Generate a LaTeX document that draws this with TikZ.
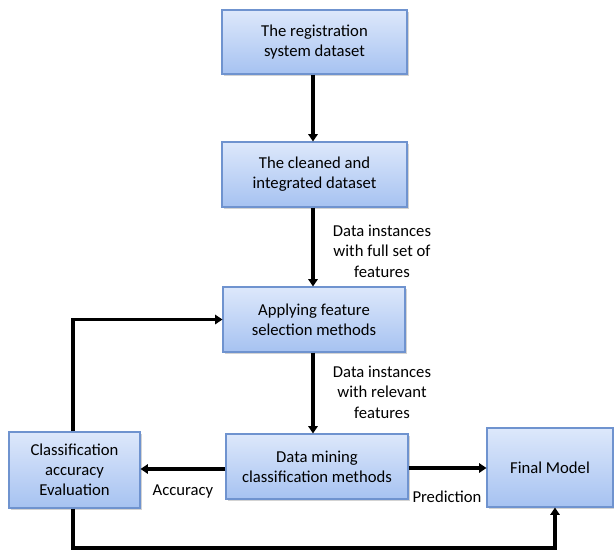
\documentclass[tikz,border=0pt]{standalone}
\usepackage{fontspec}
\setmainfont{Carlito}
\usepackage{tikz}
\usetikzlibrary{positioning, arrows, arrows.meta, shapes, shadows}
\definecolor{boxtop}{HTML}{DDE8FB}
\definecolor{boxbottom}{HTML}{A6C2F1}
\definecolor{boxline}{HTML}{6F93CF}
\tikzstyle{stagebox} = [draw=boxline, line width=0.8pt, rectangle, inner sep=2pt, top color=boxtop, bottom color=boxbottom, align=center, font=\fontsize{12.5}{15}\selectfont, drop shadow={shadow xshift=1.2pt, shadow yshift=-1.5pt, opacity=0.35}]
\tikzstyle{flow} = [line width=2.6pt, -{Triangle[length=5.5pt, width=7pt]}]
\tikzstyle{note} = [align=center, font=\fontsize{12.5}{15.5}\selectfont]

\begin{document}
\begin{tikzpicture}[x=0.75pt, y=-0.75pt]
      \useasboundingbox (0,0) rectangle (614,551);
      \node[stagebox, minimum width=138.75pt, minimum height=48pt] (regdata) at (314.5,42) {The registration\\system dataset};
      \node[stagebox, minimum width=138.75pt, minimum height=48.75pt] (cleandata) at (314.5,174.5) {The cleaned and\\integrated dataset};
      \node[stagebox, minimum width=136.5pt, minimum height=48.75pt] (featsel) at (314,319.5) {Applying feature\\selection methods};
      \node[stagebox, minimum width=136.5pt, minimum height=48.75pt] (mining) at (317,466.5) {Data mining\\classification methods};
      \node[stagebox, minimum width=98.25pt, minimum height=57pt] (evaluation) at (74.5,470) {Classification\\accuracy\\Evaluation};
      \node[stagebox, minimum width=94.5pt, minimum height=59.25pt] (finalmodel) at (550,467.5) {Final Model};
      % edge labels
      \node[note] (fullset) at (382,251) {Data instances\\with full set of\\features};
      \node[note] (relevant) at (382,392) {Data instances\\with relevant\\features};
      \node[note] (acclabel) at (183,491) {Accuracy};
      \node[note] (predlabel) at (447,497) {Prediction};
      \coordinate (bend) at (555,548);
      % connectors
      \draw[flow] (313,0 |- regdata.south) -- (313,0 |- cleandata.north);
      \draw[flow] (313,0 |- cleandata.south) -- (313,0 |- featsel.north);
      \draw[flow] (313,0 |- featsel.south) -- (313,0 |- mining.north);
      \draw[flow] (mining.west |- 0,469) -- (evaluation.east |- 0,469);
      \draw[flow] (mining.east |- 0,468) -- (finalmodel.west |- 0,468);
      \draw[flow] (evaluation.north -| 73,0) |- (featsel.west);
      \draw[flow] (evaluation.south -| 73,0) |- (bend) -- (bend |- finalmodel.south);
\end{tikzpicture}
\end{document}
